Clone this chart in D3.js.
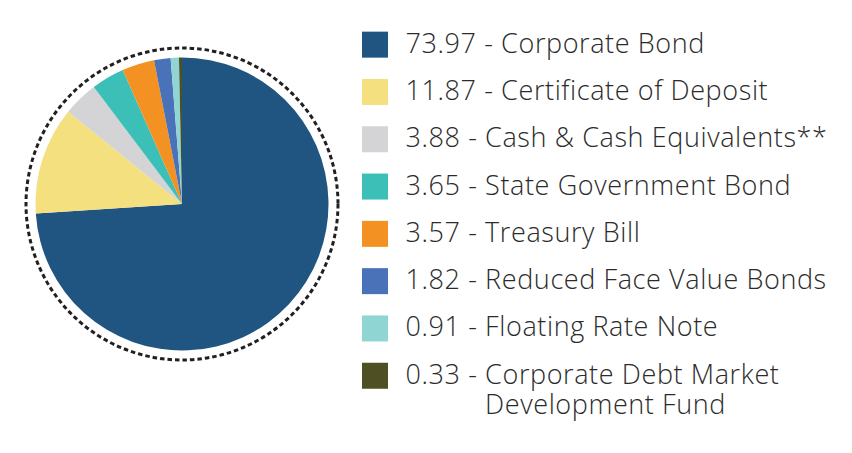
<!DOCTYPE html>
<html><head><meta charset="utf-8">
<script src="https://cdn.jsdelivr.net/npm/d3@7"></script>
<style>body{margin:0;background:#fff}svg{display:block}</style>
</head><body>
<svg id="c" width="852" height="453"></svg>
<script>
const categories = ["Corporate Bond","Certificate of Deposit","Cash & Cash Equivalents**","State Government Bond","Treasury Bill","Reduced Face Value Bonds","Floating Rate Note","Corporate Debt Market|Development Fund"];
const values = [73.97, 11.87, 3.88, 3.65, 3.57, 1.82, 0.91, 0.33];
const labels = ["73.97","11.87","3.88","3.65","3.57","1.82","0.91","0.33"];
const colors = ["#1f5580","#f4e07f","#d4d4d6","#3bbfb7","#f39222","#4a72b8","#8ed5d3","#4e5024"];

const svg = d3.select("#c");
const cx = 182, cy = 204, r = 146.5;
const g = svg.append("g").attr("transform", `translate(${cx},${cy})`);
const pie = d3.pie().sort(null).value(d => d)(values);
const arc = d3.arc().innerRadius(0).outerRadius(r);
g.selectAll("path.s").data(pie).join("path").attr("class","s")
  .attr("d", arc).attr("fill", (d,i) => colors[i]);
g.append("circle").attr("r", 156).attr("fill","none").attr("stroke","#231f20")
  .attr("stroke-width",3).attr("stroke-dasharray","4.5,3");

const FONT = "Open Sans", FW = 300, FS = 27, LS = 0.6;
const y = d3.scaleBand().domain(d3.range(categories.length)).range([21, 21+47.3*8]);
const leg = svg.append("g");
const rows = leg.selectAll("g").data(categories).join("g")
  .attr("transform", (d,i) => `translate(362,${y(i)+y.bandwidth()/2})`);
rows.append("rect").attr("x",0).attr("y",-13).attr("width",26).attr("height",26)
  .attr("fill", (d,i) => colors[i]);
function styl(s){ return s.attr("font-family",FONT).attr("font-weight",FW).attr("font-size",FS)
    .attr("letter-spacing",LS).attr("fill","#2b2b2b"); }
rows.each(function(d,i){
  const parts = d.split("|");
  const t = styl(d3.select(this).append("text").attr("x",43.5).attr("y",8));
  const pre = labels[i] + " - ";
  t.append("tspan").text(pre);
  t.append("tspan").text(parts[0]);
  if (parts.length > 1) {
    const x2 = t.node().getStartPositionOfChar(pre.length).x;
    styl(d3.select(this).append("text").attr("x", x2).attr("y", 38)).text(parts[1]);
  }
});
</script>
</body></html>
